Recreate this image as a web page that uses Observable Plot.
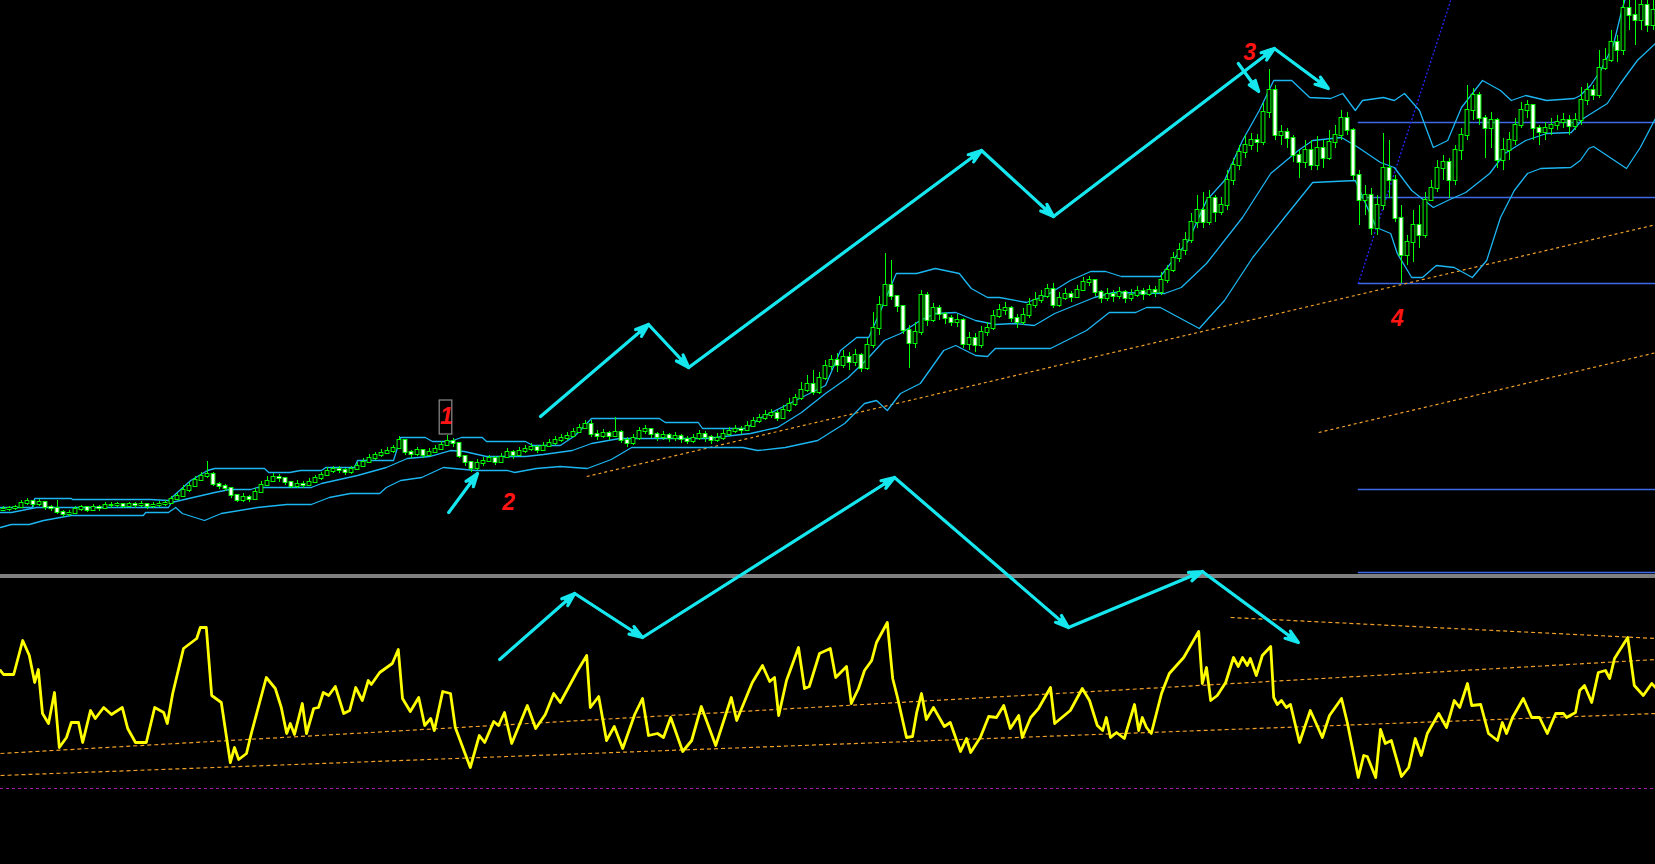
<!DOCTYPE html>
<html>
<head>
<meta charset="utf-8">
<script src="https://cdn.jsdelivr.net/npm/d3@7"></script>
<script src="https://cdn.jsdelivr.net/npm/@observablehq/plot@0.6"></script>
<style>
html, body { margin: 0; padding: 0; background: #000; }
#chart { width: 1655px; height: 864px; overflow: hidden; background: #000; }
#chart svg { display: block; }
</style>
</head>
<body>
<div id="chart"></div>
<script>
// ---- Price candles (arbitrary price units, bar index 0..275) ----
const firstOpen = 354;
const closes = [
355,356,357,361,363,360,362,357,356,352,
350,351,355,357,354,357,356,359,359,360,
358,360,359,360,358,359,360,361,365,368,
374,378,384,388,390,380,378,376,369,364,
367,365,372,379,383,387,386,382,378,380,
379,382,386,389,393,395,394,392,395,398,
402,406,409,411,413,416,424,412,410,414,
409,412,415,419,423,421,408,402,396,401,
403,406,402,407,412,409,413,415,417,414,
418,421,424,426,428,432,436,440,430,428,
431,428,432,424,421,426,433,435,430,427,
429,426,428,425,423,426,430,427,424,426,
430,433,435,434,438,443,446,449,451,446,
454,460,466,474,480,472,486,498,504,499,
507,502,509,496,519,536,559,579,568,558,
534,521,532,569,544,556,550,546,542,544,
520,526,519,532,536,548,554,556,546,542,
549,559,564,568,575,559,566,570,567,574,
582,584,572,566,570,568,572,566,569,573,
570,574,572,584,594,606,614,624,642,654,
642,666,652,659,684,699,712,719,724,722,
752,774,729,732,726,709,702,714,699,716,
706,722,729,746,734,689,664,669,636,659,
696,684,646,609,622,639,629,664,676,696,
702,684,714,729,754,769,746,736,744,704,
714,724,739,754,759,736,732,736,739,742,
744,738,744,764,774,769,796,804,822,814,
856,849,844,859,839,854
];
const highs = [
358,358,359,364,366,364,365,361,359,364,
354,354,358,359,358,360,359,362,362,362,
361,362,362,363,361,362,363,364,368,371,
379,382,388,392,403,392,382,380,375,369,
371,369,376,383,388,391,390,387,383,384,
383,386,389,392,397,398,398,396,398,402,
406,410,412,415,417,419,428,425,414,417,
415,416,419,423,429,426,422,409,403,405,
407,409,408,411,416,414,417,419,421,419,
422,425,428,430,432,436,440,444,444,434,
435,433,447,434,427,430,437,439,436,432,
433,431,432,430,428,430,434,433,429,431,
435,437,439,438,443,447,450,454,455,454,
459,466,470,482,489,494,492,504,509,511,
514,512,515,511,526,552,568,611,604,566,
559,539,542,574,572,561,559,552,549,550,
546,532,531,538,542,554,560,562,558,550,
556,566,572,574,580,581,572,576,573,579,
587,588,585,574,576,574,577,574,575,578,
576,579,578,592,599,612,621,632,651,669,
672,674,669,667,694,706,719,729,731,730,
761,795,779,739,736,729,714,724,724,728,
724,734,739,754,752,736,694,679,676,669,
731,724,689,659,629,654,659,672,684,704,
709,706,719,736,779,776,772,749,752,746,
726,732,746,762,764,756,739,742,746,749,
751,749,751,777,781,779,814,816,834,829,
874,874,874,874,869,874
];
const lows = [
353,353,354,357,359,357,358,354,353,350,
347,348,352,353,352,354,353,356,356,357,
356,357,356,357,355,356,357,358,360,364,
367,372,377,383,386,378,375,373,366,362,
362,362,367,374,380,383,382,379,376,376,
376,378,382,384,390,391,391,389,390,394,
397,401,404,407,410,411,415,409,406,408,
406,408,411,414,418,417,406,398,392,394,
398,402,399,403,407,405,408,411,413,411,
414,417,419,422,424,427,431,435,427,424,
426,424,427,421,417,419,424,430,426,423,
424,422,423,421,420,421,424,422,420,422,
424,428,431,430,433,437,441,444,446,443,
445,452,458,464,472,469,470,484,494,492,
496,494,498,492,494,516,529,558,564,552,
530,496,516,529,538,542,544,540,538,537,
516,514,512,516,528,534,546,549,542,536,
539,546,556,561,566,556,557,564,562,566,
574,578,568,561,563,562,565,561,563,567,
564,568,567,569,581,592,602,609,621,636,
636,639,642,649,654,679,694,706,714,712,
719,746,724,719,716,702,686,696,694,694,
696,704,716,724,729,684,639,649,629,629,
654,666,642,581,599,602,616,626,664,672,
684,666,679,704,724,744,739,706,716,696,
694,704,719,736,746,724,719,724,729,734,
736,729,734,739,759,764,766,794,802,802,
809,834,819,834,832,834
];

// ---- Bollinger bands: [bar, value] ----
const bandUpper = [[-0.5,357],[4.8,357],[5.2,366],[11.3,366],[11.5,365],[24.5,365],[27.5,364],[31.2,384],[34,394],[35.2,396],[43.5,396],[44.2,392],[47.7,392],[49.5,394],[53,394],[53.7,397],[58.5,397],[59,404],[65,404],[66.2,427],[70.3,427],[71.5,423],[74.5,423],[76.3,427],[79.8,427],[80.5,423],[87,423],[88.2,419],[92.8,419],[95.3,429],[98,446],[109.3,446],[110.3,442],[115.8,442],[116.5,436],[123.8,436],[126.3,447],[131,461],[137,479],[139.5,514],[142.2,527],[144.2,527],[146.2,554],[148.8,591],[152.2,591],[155.3,596],[159.3,591],[161.3,576],[164,567],[166,567],[170.5,562],[173.8,569],[177.8,584],[181.2,593],[183.7,593],[186.3,588],[192.8,588],[197.5,624],[200.5,664],[203.5,684],[206.5,724],[209.3,754],[211.7,784],[214.7,784],[217.7,767],[221.2,766],[223.2,771],[225.3,754],[226.5,764],[230,767],[231.8,764],[233.5,771],[236,754],[238.3,717],[240.7,724],[243,757],[246.5,784],[249.5,774],[251.3,764],[253.7,769],[257.2,764],[261.8,766],[262.8,769],[264.5,779],[266.2,794],[268.3,819],[269.5,849],[270.2,864],[271.2,884]];
const bandMiddle = [[-0.5,352],[1.3,352],[5.5,357],[27.5,357],[28,362],[35.2,372],[37.7,375],[41.2,375],[42.3,377],[51.3,377],[53,381],[59,389],[63.8,397],[67.3,406],[71,408],[74.5,414],[76.8,413],[80.5,408],[87,408],[90,410],[94.8,414],[98,421],[102.7,426],[117.2,426],[124.5,431],[129,437],[133,452],[137,471],[140.8,487],[144.2,507],[146.8,524],[149.5,531],[152.8,544],[155.3,551],[158.7,552],[162,544],[165.3,540],[168.5,541],[171.8,539],[175.2,551],[178.5,559],[181.8,567],[185,572],[193.5,571],[196.3,577],[200.5,601],[206.5,647],[211.2,691],[215.8,714],[218.2,724],[223,727],[225.8,717],[229.5,702],[231.8,697],[234.7,674],[238.3,657],[240.7,664],[243.7,672],[247.7,691],[250.2,711],[253.7,724],[257.2,731],[261.3,732],[263.3,746],[267.3,761],[269.5,781],[272.3,804],[275.5,822]];
const bandLower = [[-0.5,337],[1.3,340],[4.3,340],[6.7,344],[11.3,349],[23.3,349],[23.7,352],[27.5,352],[28.7,357],[29.8,351],[33.5,344],[36.3,351],[42.3,357],[47.2,360],[51.3,360],[54.3,367],[57.8,371],[62.7,371],[63.8,377],[66.2,384],[69.7,387],[73.3,397],[78.7,394],[84,394],[85.2,392],[88.8,396],[92.8,398],[97.3,396],[101.3,405],[104.7,417],[123.2,417],[125.7,414],[130.3,417],[135.7,424],[140.2,441],[143.5,461],[145.5,464],[147.3,454],[149.5,471],[152.8,481],[156.7,514],[158.7,519],[162,509],[164,508],[165.3,516],[174.5,516],[180.5,534],[184.3,552],[188.7,552],[190.5,557],[192.8,557],[199.3,536],[203.5,564],[208.2,607],[213.5,647],[218.2,682],[225.3,684],[228.8,637],[231.2,631],[232.3,611],[234.7,587],[236.5,587],[238.8,599],[241.8,597],[244.8,587],[247.2,604],[249.5,647],[251.8,674],[254,691],[256.2,696],[261.2,697],[262.8,704],[264.2,716],[265,718],[267.5,708],[270.5,696],[272.8,717],[275.5,748]];

// ---- Oscillator (lower pane): [bar, value] ----
const osc = [[-0.5,194],[0,190],[1.7,190],[3.2,224],[4.3,209],[5.2,182],[5.8,195],[6.5,151],[7.5,141],[8.5,172],[9.3,117],[10.5,127],[11.3,142],[12.5,142],[13.2,122],[14.5,154],[15.3,146],[16.7,157],[18,150],[19.8,157],[20.7,136],[22,122],[23.8,122],[25.2,157],[26.7,152],[27.3,141],[28.2,171],[30,216],[32.2,226],[32.8,237],[33.8,237],[34.7,169],[36.3,162],[37.8,102],[38.5,117],[39.2,105],[40.5,111],[41.3,131],[43.8,187],[45.3,176],[46.3,157],[47.2,131],[47.8,141],[48.5,130],[49.8,161],[50.5,131],[51.7,156],[52.5,157],[53.3,172],[54.2,169],[55.3,178],[56.7,151],[57.7,154],[58.7,177],[59.8,164],[60.8,184],[61.3,180],[62.7,192],[64.8,201],[65.8,215],[66.5,166],[67.8,153],[69.2,167],[70.2,139],[71.2,146],[71.8,134],[73.2,173],[74.5,171],[75.3,137],[77.8,97],[79.3,129],[80.2,122],[81.7,143],[82.5,139],[83.5,152],[84.7,121],[85.8,137],[87.3,159],[88.7,136],[90.3,150],[91.7,171],[92.8,162],[95.7,194],[97.2,209],[97.8,157],[99.2,168],[100.5,124],[101.8,138],[103.2,116],[105.2,150],[106.5,166],[107.5,129],[109,131],[110,127],[111.2,147],[113.2,113],[114.7,124],[116.3,158],[118.7,119],[121.3,167],[122.2,144],[124.8,182],[126.5,199],[127.7,183],[128.5,187],[129.2,149],[130.5,184],[132.5,217],[133.5,176],[134.3,178],[136,211],[137.8,216],[138.7,187],[140.5,198],[141.3,161],[142.5,176],[143.5,194],[144.7,204],[145.5,222],[147.3,242],[148.2,186],[149,167],[150.5,127],[151.5,128],[152.2,152],[153,171],[153.8,145],[155,157],[156.8,138],[157.8,142],[159.5,113],[160.5,126],[161.2,112],[162.8,127],[164.2,148],[165.5,147],[166.7,159],[167.8,136],[169.2,149],[169.8,127],[171.2,147],[172.5,156],[174.5,177],[175.2,141],[177.8,154],[179.8,176],[181,164],[182.3,139],[183.2,134],[183.8,147],[184.5,127],[185.5,132],[186.8,126],[188.5,160],[189.2,134],[189.8,147],[190.5,137],[191.3,131],[193,171],[194.3,191],[195.2,197],[196.7,207],[199.2,233],[199.8,181],[200.5,197],[201.2,164],[202.3,169],[203.7,182],[205,207],[205.8,198],[206.5,207],[207.3,199],[207.8,206],[208.8,189],[209.8,209],[211.2,218],[211.7,167],[212.3,160],[213,164],[213.8,157],[214.5,160],[216,122],[217.8,154],[218.7,142],[219.8,127],[221,149],[223,166],[224,141],[225.8,87],[226.7,109],[227.3,108],[228.7,87],[229.5,135],[230.3,121],[231.3,124],[233,88],[234.2,97],[235.3,126],[236.3,109],[237.3,131],[239.2,151],[240.5,137],[241.8,164],[242.7,157],[244,181],[244.7,159],[246.2,160],[247.5,131],[249,124],[249.8,142],[250.5,131],[251.5,147],[253.3,166],[254.7,147],[256,147],[257.3,131],[258.7,151],[260,151],[260.5,147],[262,152],[262.7,174],[263.5,179],[264.7,162],[265.8,192],[267,194],[267.7,186],[268.5,206],[270.7,227],[271.8,179],[273.3,169],[274.7,181],[275.5,176]];

// ---- Drawn lines & annotations: [x1, y1, x2, y2] in bar / value units ----
const priceTrendLines = [[97.2,388,275.5,640],[219.2,432,275.5,512]];
const oscTrendLines = [[-0.5,111,275.5,205],[-0.5,89,275.5,151],[204.5,247,275.5,226]];
const oscFloor = [76];
const paneBorders = [289.5, 287.5];
const fibLevels = [742, 667, 581, 375, 292];
const fibStartBar = 225.8;
const steepLine = [[225.8,581,241.2,864]];
const upperChain = [[89.5,448],[107.5,540],[114.2,497],[163,714],[175,648],[211.8,816],[220.8,776]];
const lowerChain = [[82.7,205],[95.2,271],[106.5,227],[148.5,387],[177.5,237],[199.8,293],[215.8,222]];
const smallArrows = [[[74.2,352],[79,391]],[[205.8,801],[209.2,773]]];
const labelText = ["1", "2", "3", "4"];
const labelBar = [73.8, 84.2, 207.7, 232.3];
const labelValue = [448, 362, 812, 546];
const markBox = [[72.7,464,74.8,430]];

// ---- build tables ----
const candles = closes.map((c, i) => ({
  i, open: i === 0 ? firstOpen : closes[i - 1], close: c, high: highs[i], low: lows[i]
}));
const upCandles = candles.filter(d => d.close >= d.open);
const downCandles = candles.filter(d => d.close < d.open);
const seg = ([a, b, c, d]) => ({x1: a, y1: b, x2: c, y2: d});
const arrowSegs = [upperChain, lowerChain, ...smallArrows].flatMap(ch =>
  d3.pairs(ch).map(([a, b]) => ({x1: a[0], y1: a[1], x2: b[0], y2: b[1]})));
const labels = labelText.map((t, k) => ({t, x: labelBar[k], y: labelValue[k]}));

const BAND = "#1cb6f2";
const GREEN = "#00ff00";
const CYAN = "#16e6ee";

const chart = Plot.plot({
  width: 1655,
  height: 864,
  margin: 0,
  x: {domain: [-0.5, 275.333], axis: null},
  y: {domain: [0, 864], axis: null},
  style: {background: "#000", overflow: "hidden"},
  marks: [
    Plot.ruleY(paneBorders, {stroke: "#ffffff", strokeWidth: 1}),
    Plot.ruleY(fibLevels, {x1: fibStartBar, x2: 280, stroke: "#3d6ae6", strokeWidth: 1.6}),
    Plot.link(priceTrendLines.map(seg), {x1: "x1", y1: "y1", x2: "x2", y2: "y2", stroke: "#f0a028", strokeWidth: 1.2, strokeDasharray: "3,3"}),
    Plot.link(oscTrendLines.map(seg), {x1: "x1", y1: "y1", x2: "x2", y2: "y2", stroke: "#f0a028", strokeWidth: 1.2, strokeDasharray: "4,3"}),
    Plot.ruleY(oscFloor, {stroke: "#a41ca4", strokeWidth: 1.2, strokeDasharray: "3,3"}),
    Plot.link(steepLine.map(seg), {x1: "x1", y1: "y1", x2: "x2", y2: "y2", stroke: "#2626ff", strokeWidth: 1.3, strokeDasharray: "2,2"}),
    Plot.line(bandUpper, {x: d => d[0], y: d => d[1], stroke: BAND, strokeWidth: 1.3}),
    Plot.line(bandMiddle, {x: d => d[0], y: d => d[1], stroke: BAND, strokeWidth: 1.3}),
    Plot.line(bandLower, {x: d => d[0], y: d => d[1], stroke: BAND, strokeWidth: 1.3}),
    Plot.ruleX(candles, {x: "i", y1: "low", y2: "high", stroke: GREEN, strokeWidth: 1}),
    Plot.rect(upCandles, {x1: d => d.i - 0.32, x2: d => d.i + 0.32, y1: "open", y2: "close", fill: "#000", stroke: GREEN, strokeWidth: 1, insetTop: -0.5, insetBottom: -0.5}),
    Plot.rect(downCandles, {x1: d => d.i - 0.32, x2: d => d.i + 0.32, y1: "open", y2: "close", fill: "#ffffff", stroke: GREEN, strokeWidth: 1, insetTop: -0.5, insetBottom: -0.5}),
    Plot.line(osc, {x: d => d[0], y: d => d[1], stroke: "#ffff00", strokeWidth: 2.8}),
    Plot.arrow(arrowSegs, {x1: "x1", y1: "y1", x2: "x2", y2: "y2", stroke: CYAN, strokeWidth: 3.2, headLength: 6.5, headAngle: 38}),
    Plot.arrow(arrowSegs, {x1: "x1", y1: "y1", x2: "x2", y2: "y2", stroke: CYAN, strokeWidth: 2.2, headLength: 8, headAngle: 22}),
    Plot.rect(markBox.map(([a, b, c, d]) => ({x1: a, y1: b, x2: c, y2: d})), {x1: "x1", x2: "x2", y1: "y1", y2: "y2", fill: "none", stroke: "#8e8e8e", strokeWidth: 1.2}),
    Plot.text(labels, {x: "x", y: "y", text: "t", fill: "#ff1414", fontSize: 23, fontWeight: "bold", fontStyle: "italic", fontFamily: "Liberation Sans, Arial, sans-serif"})
  ]
});
document.getElementById("chart").appendChild(chart);
</script>
</body>
</html>
